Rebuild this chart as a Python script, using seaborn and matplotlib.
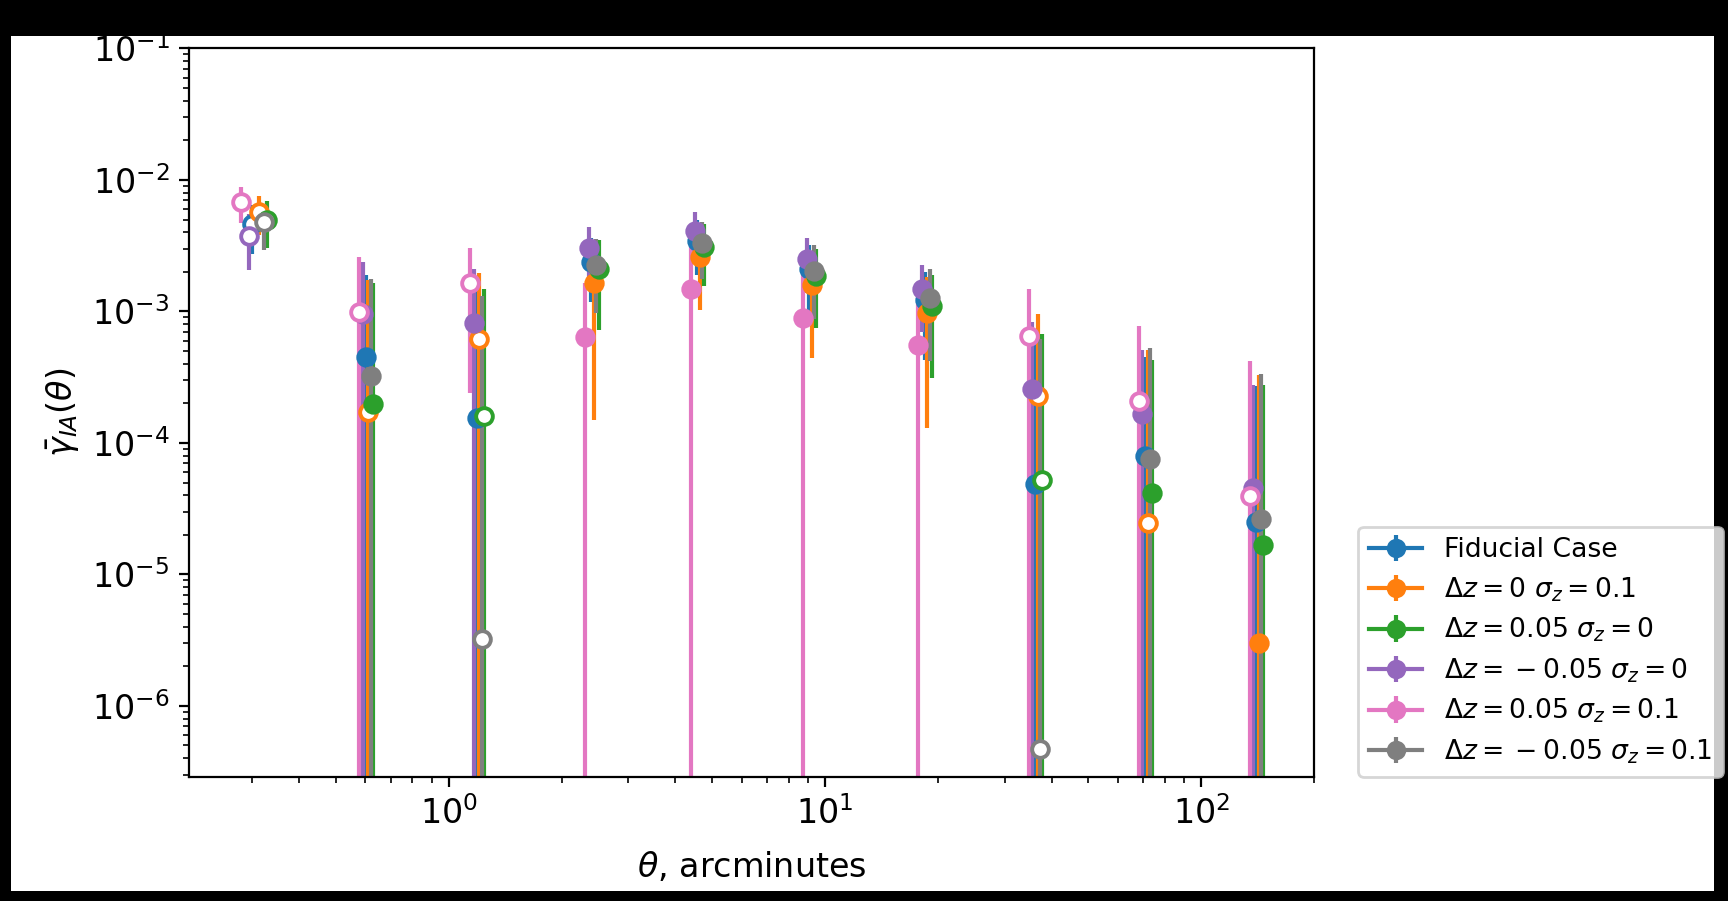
import numpy as np
import pandas as pd
import matplotlib
matplotlib.use("Agg")
import matplotlib.pyplot as plt
from matplotlib.patches import Rectangle
import seaborn as sns

# ---------------- data ----------------
labels = [
    "Fiducial Case",
    r"$\Delta z = 0$ $\sigma_z = 0.1$",
    r"$\Delta z = 0.05$ $\sigma_z = 0$",
    r"$\Delta z =\:-\:0.05$ $\sigma_z = 0$",
    r"$\Delta z = 0.05$ $\sigma_z = 0.1$",
    r"$\Delta z =\:-\:0.05$ $\sigma_z = 0.1$",
]
colors = sns.color_palette("tab10").as_hex()
series_colors = [colors[0], colors[1], colors[2], colors[4], colors[6], colors[7]]

# theta positions (arcmin) of each series
x_fid = [0.300, 0.601, 1.185, 2.394, 4.58, 9.08, 18.39, 36.2, 71.0, 139.8]
x_dz0_s01 = [0.313, 0.611, 1.205, 2.434, 4.65, 9.24, 18.69, 36.8, 72.1, 142.2]
x_dz005_s0 = [0.329, 0.628, 1.239, 2.502, 4.78, 9.49, 19.21, 37.8, 74.2, 146.1]
x_dzm005_s0 = [0.294, 0.592, 1.166, 2.355, 4.50, 8.94, 18.09, 35.6, 69.8, 137.6]
x_dz005_s01 = [0.280, 0.578, 1.139, 2.301, 4.40, 8.73, 17.67, 34.8, 68.2, 134.4]
x_dzm005_s01 = [0.323, 0.620, 1.222, 2.469, 4.72, 9.37, 18.96, 37.3, 73.2, 144.2]

# signed gamma_IA values (negative ones are drawn as open circles at |value|)
y_fid = [-4.6e-3, 4.49e-4, 1.54e-4, 2.39e-3, 3.43e-3, 2.09e-3, 1.22e-3, 4.85e-5, 8.0e-5, 2.52e-5]
y_dz0_s01 = [-5.68e-3, -1.71e-4, -6.18e-4, 1.64e-3, 2.61e-3, 1.59e-3, 9.8e-4, -2.29e-4, -2.48e-5, 3.03e-6]
y_dz005_s0 = [-4.96e-3, 1.98e-4, -1.61e-4, 2.10e-3, 3.11e-3, 1.87e-3, 1.10e-3, -5.24e-5, 4.14e-5, 1.67e-5]
y_dzm005_s0 = [-3.77e-3, 9.5e-4, 8.18e-4, 3.06e-3, 4.11e-3, 2.51e-3, 1.48e-3, 2.56e-4, 1.65e-4, 4.52e-5]
y_dz005_s01 = [-6.77e-3, -9.86e-4, -1.64e-3, 6.43e-4, 1.49e-3, 8.98e-4, 5.53e-4, -6.52e-4, -2.08e-4, -3.95e-5]
y_dzm005_s01 = [-4.76e-3, 3.25e-4, -3.24e-6, 2.26e-3, 3.30e-3, 2.04e-3, 1.26e-3, -4.71e-7, 7.51e-5, 2.66e-5]

# 1-sigma errors
e_fid = [1.85e-3, 1.45e-3, 1.40e-3, 1.20e-3, 1.53e-3, 1.13e-3, 0.79e-3, 0.60e-3, 3.7e-4, 2.45e-4]
e_dz0_s01 = [1.87e-3, 1.55e-3, 1.33e-3, 1.49e-3, 1.58e-3, 1.15e-3, 0.85e-3, 0.73e-3, 4.8e-4, 3.26e-4]
e_dz005_s0 = [1.90e-3, 1.46e-3, 1.32e-3, 1.38e-3, 1.55e-3, 1.12e-3, 0.79e-3, 0.62e-3, 3.86e-4, 2.6e-4]
e_dzm005_s0 = [1.70e-3, 1.42e-3, 1.29e-3, 1.30e-3, 1.56e-3, 1.13e-3, 0.78e-3, 0.57e-3, 3.4e-4, 2.3e-4]
e_dz005_s01 = [2.10e-3, 1.63e-3, 1.40e-3, 1.00e-3, 1.66e-3, 1.20e-3, 0.90e-3, 0.83e-3, 5.7e-4, 3.8e-4]
e_dzm005_s01 = [1.82e-3, 1.44e-3, 1.30e-3, 1.28e-3, 1.52e-3, 1.17e-3, 0.84e-3, 0.62e-3, 4.5e-4, 3.1e-4]

xs = [x_fid, x_dz0_s01, x_dz005_s0, x_dzm005_s0, x_dz005_s01, x_dzm005_s01]
ys = [y_fid, y_dz0_s01, y_dz005_s0, y_dzm005_s0, y_dz005_s01, y_dzm005_s01]
es = [e_fid, e_dz0_s01, e_dz005_s0, e_dzm005_s0, e_dz005_s01, e_dzm005_s01]

xlim = (0.204, 200.0)
ylim = (2.9e-7, 1e-1)

# ---------------- figure ----------------
fig = plt.figure(figsize=(8.64, 4.505), dpi=200)
fig.patch.set_facecolor("black")
fig.add_artist(Rectangle((0.0064, 0.011), 0.9855, 0.949, transform=fig.transFigure,
                         facecolor="white", edgecolor="none", zorder=-10))
ax = fig.add_axes([0.1094, 0.1381, 0.6513, 0.8081])
ax.set_xscale("log")
ax.set_yscale("log")

frames = []
for i, lab in enumerate(labels):
    frames.append(pd.DataFrame({"series": lab, "theta": xs[i],
                                "gamma": ys[i], "err": es[i]}))
df = pd.concat(frames, ignore_index=True)
df["absg"] = df["gamma"].abs()
df["neg"] = df["gamma"] < 0

handles = []
for i, lab in enumerate(labels):
    c = series_colors[i]
    d = df[df["series"] == lab]
    ax.errorbar(d["theta"], d["absg"], yerr=d["err"], fmt="none",
                ecolor=c, elinewidth=1.5, zorder=2 + i * 0.1)
    pos = d[~d["neg"]]
    neg = d[d["neg"]]
    zm = 3 + i * 0.1
    sns.scatterplot(x=pos["theta"], y=pos["absg"], ax=ax, color=c, edgecolor=c,
                    s=40, linewidth=1.0, zorder=zm, legend=False)
    sns.scatterplot(x=neg["theta"], y=neg["absg"], ax=ax, color="white", edgecolor=c,
                    s=36, linewidth=1.4, zorder=zm, legend=False)
    h = ax.errorbar([np.nan], [np.nan], yerr=[np.nan], fmt="-o", color=c,
                    markersize=6, label=lab)
    handles.append(h)

ax.set_xlim(*xlim)
ax.set_ylim(*ylim)
ax.set_xlabel(r"$\theta$, arcminutes", fontsize=12, labelpad=7)
ax.set_ylabel(r"$\bar{\gamma}_{IA}(\theta)$", fontsize=12)
ax.tick_params(labelsize=12)

ax.legend(handles=handles, labels=labels, loc="lower left",
          bbox_to_anchor=(1.039, 0.0), borderaxespad=0.0, fontsize=9.6,
          labelspacing=0.45)

fig.savefig("out.png", dpi=200, facecolor=fig.get_facecolor())
